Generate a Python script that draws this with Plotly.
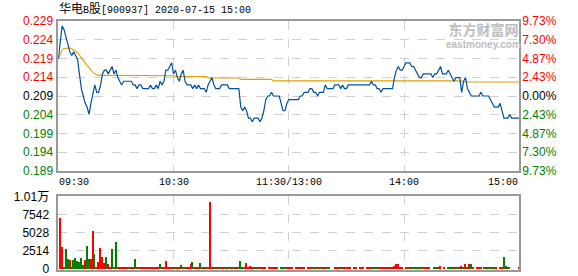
import plotly.graph_objects as go

# ---------------- data ----------------
prev_close = 0.209
price_ticks = [0.229, 0.224, 0.219, 0.214, 0.209, 0.204, 0.199, 0.194, 0.189]
pct_ticks = ["9.73%", "7.30%", "4.87%", "2.43%", "0.00%", "2.43%", "4.87%", "7.30%", "9.73%"]
pct_vals = [9.73, 7.30, 4.87, 2.43, 0.0, -2.43, -4.87, -7.30, -9.73]
vol_ticks = [0, 2514, 5028, 7542, 10056]
vol_tick_text = ["0", "2514", "5028", "7542", "1.01万"]
time_labels = ["09:30", "10:30", "11:30/13:00", "14:00", "15:00"]
time_pos = [0, 60, 120, 180, 240]

price = [
    0.219, 0.224, 0.228, 0.227, 0.225, 0.223, 0.221, 0.220, 0.221, 0.220,
    0.219, 0.215, 0.211, 0.209, 0.207, 0.206, 0.204, 0.207, 0.210, 0.212,
    0.210, 0.210, 0.212, 0.215, 0.216, 0.216, 0.215, 0.216, 0.217, 0.215,
    0.216, 0.214, 0.213, 0.212, 0.213, 0.213, 0.213, 0.213, 0.213, 0.212,
    0.212, 0.211, 0.212, 0.212, 0.211, 0.211, 0.211, 0.211, 0.212, 0.211,
    0.211, 0.212, 0.211, 0.213, 0.212, 0.213, 0.216, 0.216, 0.217, 0.218,
    0.215, 0.216, 0.214, 0.213, 0.215, 0.216, 0.213, 0.212, 0.212, 0.212,
    0.211, 0.212, 0.211, 0.212, 0.211, 0.211, 0.211, 0.210, 0.212, 0.213,
    0.214, 0.212, 0.211, 0.211, 0.211, 0.212, 0.212, 0.212, 0.212, 0.211,
    0.211, 0.211, 0.211, 0.211, 0.211, 0.206, 0.205, 0.206, 0.205, 0.203,
    0.203, 0.202, 0.203, 0.203, 0.203, 0.202, 0.203, 0.205, 0.208, 0.209,
    0.209, 0.210, 0.209, 0.209, 0.209, 0.209, 0.207, 0.205, 0.205, 0.207,
    0.208,
    0.208, 0.208, 0.208, 0.208, 0.208, 0.209, 0.209, 0.210, 0.210, 0.210,
    0.211, 0.211, 0.210, 0.210, 0.209, 0.210, 0.210, 0.210, 0.212, 0.211,
    0.211, 0.211, 0.211, 0.212, 0.212, 0.212, 0.211, 0.212, 0.211, 0.211,
    0.212, 0.212, 0.212, 0.212, 0.212, 0.212, 0.212, 0.212, 0.212, 0.212,
    0.212, 0.212, 0.213, 0.212, 0.212, 0.211, 0.211, 0.210, 0.211, 0.211,
    0.211, 0.211, 0.211, 0.211, 0.214, 0.216, 0.217, 0.216, 0.216, 0.217,
    0.218, 0.218, 0.218, 0.217, 0.217, 0.216, 0.215, 0.214, 0.214, 0.215,
    0.215, 0.215, 0.215, 0.215, 0.214, 0.215, 0.215, 0.216, 0.217, 0.215,
    0.215, 0.215, 0.216, 0.215, 0.214, 0.213, 0.214, 0.214, 0.214, 0.210,
    0.213, 0.214, 0.211, 0.210, 0.209, 0.209, 0.209, 0.209, 0.209, 0.210,
    0.209, 0.209, 0.209, 0.209, 0.208, 0.207, 0.206, 0.206, 0.206, 0.207,
    0.205, 0.203, 0.203, 0.203, 0.204, 0.203, 0.203, 0.203, 0.203, 0.203,
]

avg_price = [
    0.2190, 0.2205, 0.2215, 0.2219, 0.2220, 0.2220, 0.2220, 0.2218, 0.2215, 0.2212,
    0.2208, 0.2201, 0.2195, 0.2188, 0.2180, 0.2173, 0.2166, 0.2160, 0.2154, 0.2150,
    0.2147, 0.2146, 0.2146, 0.2146, 0.2146, 0.2146, 0.2146, 0.2146, 0.2146, 0.2146,
    0.2146, 0.2146, 0.2146, 0.2146, 0.2146, 0.2146, 0.2146, 0.2146, 0.2146, 0.2146,
    0.2146, 0.2145, 0.2145, 0.2145, 0.2145, 0.2145, 0.2145, 0.2145, 0.2145, 0.2145,
    0.2145, 0.2145, 0.2145, 0.2145, 0.2145, 0.2145, 0.2145, 0.2145, 0.2145, 0.2145,
    0.2145, 0.2143, 0.2143, 0.2143, 0.2143, 0.2143, 0.2143, 0.2143, 0.2143, 0.2143,
    0.2143, 0.2143, 0.2143, 0.2143, 0.2143, 0.2143, 0.2143, 0.2143, 0.2139, 0.2139,
    0.2139, 0.2139, 0.2139, 0.2139, 0.2139, 0.2139, 0.2139, 0.2139, 0.2139, 0.2139,
    0.2139, 0.2139, 0.2139, 0.2139, 0.2139, 0.2135, 0.2135, 0.2135, 0.2135, 0.2135,
    0.2135, 0.2135, 0.2135, 0.2135, 0.2135, 0.2135, 0.2135, 0.2135, 0.2135, 0.2135,
    0.2135, 0.2135, 0.2131, 0.2131, 0.2131, 0.2131, 0.2131, 0.2131, 0.2131, 0.2131,
    0.2131,
    0.2131, 0.2131, 0.2131, 0.2131, 0.2131, 0.2131, 0.2131, 0.2131, 0.2131, 0.2131,
    0.2131, 0.2131, 0.2131, 0.2131, 0.2131, 0.2131, 0.2131, 0.2131, 0.2131, 0.2131,
    0.2131, 0.2131, 0.2131, 0.2131, 0.2131, 0.2131, 0.2131, 0.2131, 0.2131, 0.2131,
    0.2131, 0.2131, 0.2131, 0.2131, 0.2131, 0.2131, 0.2131, 0.2131, 0.2131, 0.2131,
    0.2131, 0.2131, 0.2131, 0.2131, 0.2131, 0.2131, 0.2131, 0.2131, 0.2131, 0.2131,
    0.2131, 0.2131, 0.2131, 0.2131, 0.2131, 0.2131, 0.2131, 0.2131, 0.2131, 0.2131,
    0.2131, 0.2131, 0.2131, 0.2131, 0.2131, 0.2131, 0.2131, 0.2131, 0.2131, 0.2131,
    0.2131, 0.2131, 0.2131, 0.2131, 0.2131, 0.2131, 0.2131, 0.2131, 0.2131, 0.2131,
    0.2131, 0.2131, 0.2131, 0.2131, 0.2131, 0.2131, 0.2131, 0.2131, 0.2131, 0.2131,
    0.2128, 0.2128, 0.2128, 0.2128, 0.2128, 0.2128, 0.2128, 0.2128, 0.2128, 0.2128,
    0.2128, 0.2128, 0.2128, 0.2128, 0.2128, 0.2128, 0.2128, 0.2128, 0.2128, 0.2128,
    0.2128, 0.2128, 0.2128, 0.2128, 0.2128, 0.2128, 0.2128, 0.2128, 0.2128, 0.2128,
]

volume = [
    0, 7077, 2980, 180, 2700, 1300, 1160, 180, 1160, 1440,
    1020, 930, 1440, 465, 1160, 3120, 1300, 1300, 5215, 2000,
    180, 880, 2840, 1580, 745, 1580, 600, 180, 2700, 180,
    3680, 180, 180, 180, 180, 180, 180, 180, 180, 180,
    1300, 180, 180, 180, 180, 180, 180, 180, 180, 180,
    180, 180, 180, 600, 180, 250, 1020, 180, 180, 180,
    180, 180, 180, 180, 465, 180, 180, 180, 180, 600,
    880, 180, 180, 180, 745, 180, 180, 190, 180, 9265,
    180, 180, 190, 180, 180, 180, 180, 180, 180, 180,
    180, 180, 180, 180, 180, 1020, 180, 180, 745, 180,
    330, 180, 180, 180, 190, 180, 180, 180, 180, 0,
    180, 180, 180, 180, 180, 0, 180, 180, 180, 180,
    180,
    180, 180, 0, 180, 180, 180, 180, 180, 0, 180,
    180, 180, 180, 180, 180, 180, 180, 180, 180, 180,
    180, 0, 0, 180, 180, 180, 180, 180, 180, 180,
    180, 180, 0, 180, 180, 0, 180, 180, 180, 0,
    180, 180, 250, 180, 180, 180, 180, 180, 180, 180,
    180, 180, 180, 180, 330, 600, 600, 180, 180, 0,
    180, 180, 180, 180, 180, 180, 180, 180, 180, 180,
    180, 180, 180, 0, 0, 180, 180, 180, 330, 0,
    180, 0, 180, 180, 180, 180, 180, 180, 180, 370,
    180, 600, 180, 600, 600, 180, 0, 180, 180, 180,
    0, 190, 180, 180, 180, 180, 180, 180, 0, 180,
    180, 1580, 330, 180, 180, 0, 0, 0, 0, 180,
]

# r = up (red), g = down (green)
direction = list(
    "rrrgggrrgg" "ggggrggrrg" "rrrrrgrrgr" "ggrrrrrgrr" "grgrrrrrrr"
    "rrrgrrrrrr" "rgrrgrgrrr" "grrrgrrgrr" "rrgrgrrgrg" "rgrrgggrrr"
    "rrgrgrrrrr" "rrrrrrgggr" "r"
    "rrrrrrrrrr" "rggrgrgrrg" "grrrrrgrrr" "rrrrrrrrrr" "rrrgggrrrr"
    "rrrrrrrrrr" "rrgrggggrg" "rrrrrggrrr" "rrgggrgrgr" "grgrgrrrrr"
    "rgrgggrrrr" "rggrgrrrrr"
)

minutes = list(range(len(price)))

# ---------------- styling ----------------
W, H = 578, 276
X0, X1 = 58.3, 519.3
TOP0, TOP1 = 21.0, 171.0
VOL0, VOL1 = 196.3, 270.0


def py(px):
    return 1 - px / H


RED, GREEN, BLACK = "#FF0000", "#008000", "#000000"
GRID = "#D0D0D0"
FRAME = "#999999"
BASE_FONT = "Liberation Sans, Arial, Noto Sans CJK SC"
MONO_FONT = "Liberation Mono, DejaVu Sans Mono, Noto Sans CJK SC"


def colour_for(i):
    return RED if i < 4 else (BLACK if i == 4 else GREEN)


price_text = [f'<span style="color:{colour_for(i)}">{v:.3f}</span>' for i, v in enumerate(price_ticks)]
pct_text = [f'<span style="color:{colour_for(i)}">{t}</span>' for i, t in enumerate(pct_ticks)]

step = prev_close * 0.02432
price_tickvals = [prev_close + (4 - i) * step for i in range(len(price_ticks))]
pmin = prev_close - 4 * step - 1e-6
pmax = prev_close + 4 * step + 1e-6

fig = go.Figure()
fig.add_trace(go.Bar(
    x=minutes, y=volume,
    marker=dict(color=[RED if d == "r" else GREEN for d in direction], line=dict(width=0)),
    width=0.55, xaxis="x2", yaxis="y2", hoverinfo="skip",
))
fig.add_trace(go.Scatter(
    x=minutes, y=avg_price, mode="lines",
    line=dict(color="#E0A000", width=1.1), xaxis="x", yaxis="y", hoverinfo="skip",
))
fig.add_trace(go.Scatter(
    x=minutes, y=price, mode="lines",
    line=dict(color="#0050A0", width=1.2), xaxis="x", yaxis="y", hoverinfo="skip",
))
# invisible trace for the right (percent) axis
fig.add_trace(go.Scatter(x=[0], y=[0], mode="markers", marker=dict(opacity=0),
                         xaxis="x", yaxis="y3", hoverinfo="skip"))

xd = [X0 / W, X1 / W]
common_x = dict(range=[0, 240], tickvals=time_pos[1:-1], showticklabels=False,
                showgrid=True, gridcolor=GRID, griddash="dash", gridwidth=1,
                showline=True, mirror=True, linecolor=FRAME, linewidth=1.5,
                zeroline=False, ticks="", fixedrange=True, domain=xd, automargin=False)

fig.update_layout(
    width=W, height=H, autosize=False,
    margin=dict(l=0, r=0, t=0, b=0, pad=0),
    paper_bgcolor="white", plot_bgcolor="white",
    showlegend=False, bargap=0,
    font=dict(family=BASE_FONT, size=12, color="black"),
    xaxis=dict(anchor="y", **common_x),
    xaxis2=dict(anchor="y2", matches="x", **common_x),
    yaxis=dict(domain=[py(TOP1), py(TOP0)], range=[pmin, pmax],
               tickvals=price_tickvals, ticktext=price_text,
               showgrid=True, gridcolor=GRID, griddash="dash",
               showline=True, mirror=True, linecolor=FRAME, linewidth=1.5,
               zeroline=False, ticks="", ticklabelstandoff=1, automargin=False,
               ticklabeloverflow="allow",
               tickfont=dict(family=BASE_FONT, size=12)),
    yaxis3=dict(overlaying="y", side="right", anchor="x", range=[-9.7301, 9.7301],
                tickvals=pct_vals, ticktext=pct_text, showgrid=False,
                zeroline=False, showline=False, ticks="", ticklabelstandoff=2,
                automargin=False, ticklabeloverflow="allow",
                tickfont=dict(family=BASE_FONT, size=12)),
    yaxis2=dict(domain=[py(VOL1), py(VOL0)], range=[-120, 10056],
                tickvals=vol_ticks, ticktext=vol_tick_text,
                showgrid=True, gridcolor=GRID, griddash="dash",
                showline=True, mirror=True, linecolor=FRAME, linewidth=1.5,
                zeroline=False, ticks="", ticklabelstandoff=5, automargin=False,
                ticklabeloverflow="allow",
                tickfont=dict(family=BASE_FONT, size=12, color="#000000")),
)

# time labels under the price panel
anchors = ["left", "center", "center", "center", "right"]
for lab, pos, anc in zip(time_labels, time_pos, anchors):
    fig.add_annotation(x=pos, xref="x", y=py(182), yref="paper", text=lab,
                       showarrow=False, xanchor=anc, yanchor="middle", borderpad=0,
                       font=dict(family=MONO_FONT, size=10, color="black"))

# title
title = ('<span style="font-size:12px">华电</span>B<span style="font-size:12px">股</span>'
         '[900937] 2020-07-15 15:00')
fig.add_annotation(x=X0 / W, xref="paper", y=py(9.5), yref="paper", text=title,
                   showarrow=False, xanchor="left", yanchor="middle", borderpad=0,
                   font=dict(family=MONO_FONT, size=10, color="black"))

# watermark (single two-line text)
watermark = ('<span style="font-size:14px; font-family:Noto Sans CJK SC"><b>东方财富网</b></span>'
             '<br><b>eastmoney.com</b>')
fig.add_annotation(x=483 / W, xref="paper", y=py(34), yref="paper", text=watermark,
                   showarrow=False, xanchor="center", yanchor="middle", borderpad=0,
                   align="center",
                   font=dict(family="Liberation Sans", size=10, color="#BDBDBD"))

fig.write_html("out.html")
